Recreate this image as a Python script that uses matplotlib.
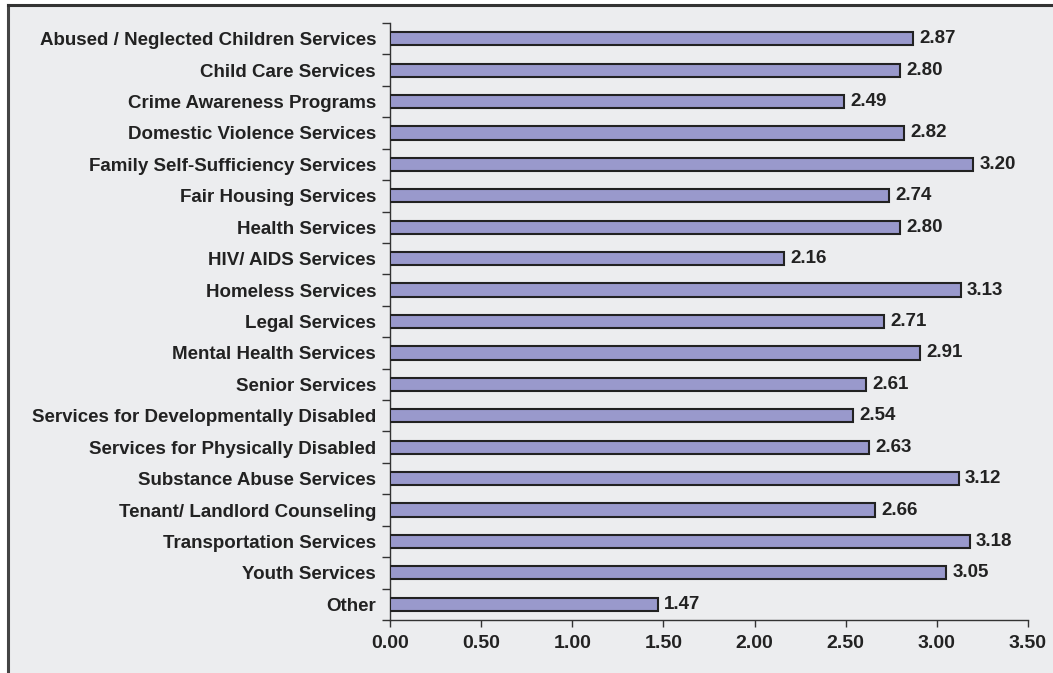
import matplotlib.pyplot as plt
from matplotlib.lines import Line2D

categories = [
    "Abused / Neglected Children Services",
    "Child Care Services",
    "Crime Awareness Programs",
    "Domestic Violence Services",
    "Family Self-Sufficiency Services",
    "Fair Housing Services",
    "Health Services",
    "HIV/ AIDS Services",
    "Homeless Services",
    "Legal Services",
    "Mental Health Services",
    "Senior Services",
    "Services for Developmentally Disabled",
    "Services for Physically Disabled",
    "Substance Abuse Services",
    "Tenant/ Landlord Counseling",
    "Transportation Services",
    "Youth Services",
    "Other",
]
values = [2.87, 2.80, 2.49, 2.82, 3.20, 2.74, 2.80, 2.16, 3.13, 2.71,
          2.91, 2.61, 2.54, 2.63, 3.12, 2.66, 3.18, 3.05, 1.47]
xticks = [0.0, 0.5, 1.0, 1.5, 2.0, 2.5, 3.0, 3.5]

plt.rcParams["font.family"] = ["Liberation Sans", "DejaVu Sans"]
plt.rcParams["font.weight"] = "bold"

bg = "#ecedef"
fs = 13.5
fig = plt.figure(figsize=(10.53, 6.73), dpi=100, facecolor="white")
# panel background with frame lines on top and left
fig.patches.append(plt.Rectangle((7.5 / 1053, 0), 1, 1 - 4.5 / 673,
                                 transform=fig.transFigure, facecolor=bg,
                                 edgecolor="none", zorder=-2))
fig.add_artist(Line2D([7.5 / 1053, 7.5 / 1053], [0, 1 - 4.5 / 673],
                      transform=fig.transFigure, color="#444444", lw=2.2))
fig.add_artist(Line2D([7.5 / 1053, 1], [1 - 4.5 / 673, 1 - 4.5 / 673],
                      transform=fig.transFigure, color="#333333", lw=2.2))

ax = fig.add_axes([390 / 1053, 1 - 620 / 673, 638 / 1053, 597 / 673])
ax.set_facecolor(bg)

n = len(categories)
ypos = list(range(n))
ax.barh(ypos, values, height=0.42, color="#9999cc", edgecolor="#222222",
        linewidth=1.5, zorder=3)
for y, v in zip(ypos, values):
    ax.text(v + 0.035, y, f"{v:.2f}", va="center", ha="left",
            fontsize=fs, fontweight="bold", color="#222222")

ax.set_ylim(n - 0.5, -0.5)
ax.set_xlim(0, 3.5)
ax.set_xticks(xticks)
ax.set_xticklabels([f"{t:.2f}" for t in xticks], fontsize=fs + 0.5,
                   fontweight="bold", color="#222222")
ax.set_yticks(ypos)
ax.set_yticklabels(categories, fontsize=fs, fontweight="bold",
                   color="#222222")
ax.tick_params(axis="y", which="major", length=0, pad=10)
ax.set_yticks([i - 0.5 for i in range(n + 1)], minor=True)
ax.tick_params(axis="y", which="minor", length=6, width=1, color="#333333")
ax.tick_params(axis="x", length=5, width=1, color="#333333", pad=6)

for side in ("top", "right"):
    ax.spines[side].set_visible(False)
for side in ("left", "bottom"):
    ax.spines[side].set_color("#333333")
    ax.spines[side].set_linewidth(1)

fig.savefig("out.png", dpi=100, facecolor="white")
